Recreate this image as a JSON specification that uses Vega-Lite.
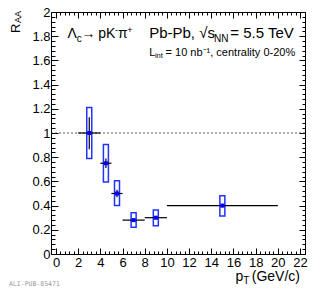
{
  "$schema": "https://vega.github.io/schema/vega-lite/v6.json",
  "autosize": {"type": "none"},
  "padding": {"left": 51, "top": 12, "right": 17, "bottom": 37},
  "width": 254,
  "height": 242,
  "background": "white",
  "config": {
    "view": {"stroke": "black", "strokeWidth": 1},
    "axis": {"grid": false, "domain": false, "labelFont": "Liberation Sans", "labelFontSize": 13, "labelColor": "black", "tickColor": "black", "tickWidth": 1, "title": null, "labelFlush": false, "labelOverlap": false},
    "text": {"font": "Liberation Sans", "color": "black"}
  },
  "datasets": {
    "pts": [
      {"pt": 3.0, "xlo": 2, "xhi": 4, "val": 1.0, "stlo": 0.865, "sthi": 1.13, "sylo": 0.79, "syhi": 1.21},
      {"pt": 4.5, "xlo": 4, "xhi": 5, "val": 0.75, "stlo": 0.71, "sthi": 0.79, "sylo": 0.595, "syhi": 0.905},
      {"pt": 5.5, "xlo": 5, "xhi": 6, "val": 0.50, "stlo": 0.47, "sthi": 0.53, "sylo": 0.40, "syhi": 0.605},
      {"pt": 7.0, "xlo": 6, "xhi": 8, "val": 0.28, "stlo": 0.265, "sthi": 0.295, "sylo": 0.222, "syhi": 0.341},
      {"pt": 9.0, "xlo": 8, "xhi": 10, "val": 0.30, "stlo": 0.285, "sthi": 0.315, "sylo": 0.234, "syhi": 0.364},
      {"pt": 15.0, "xlo": 10, "xhi": 20, "val": 0.40, "stlo": 0.385, "sthi": 0.415, "sylo": 0.315, "syhi": 0.482}
    ],
    "ref": [{"r": 1}]
  },
  "encoding": {
    "x": {"type": "quantitative", "scale": {"domain": [0, 22], "nice": false, "zero": false}},
    "y": {"type": "quantitative", "scale": {"domain": [0, 2], "nice": false, "zero": false}}
  },
  "resolve": {"axis": {"x": "independent", "y": "independent"}},
  "layer": [
    {
      "data": {"name": "ref"},
      "mark": {"type": "rule", "color": "#333333", "strokeWidth": 0.8, "strokeDash": [2, 2]},
      "encoding": {"y": {"field": "r", "type": "quantitative", "axis": null}}
    },
    {
      "data": {"name": "pts"},
      "mark": {"type": "bar", "width": 5, "fill": "transparent", "stroke": "#2233ff", "strokeWidth": 1.5},
      "encoding": {
        "x": {"field": "pt", "type": "quantitative", "axis": {"orient": "bottom", "values": [0,2,4,6,8,10,12,14,16,18,20,22], "ticks": false, "labelPadding": 2, "format": "~g"}},
        "y": {"field": "sylo", "type": "quantitative", "axis": {"orient": "left", "values": [0,0.2,0.4,0.6,0.8,1,1.2,1.4,1.6,1.8,2], "ticks": false, "labelPadding": 1, "format": "~g"}},
        "y2": {"field": "syhi"}
      }
    },
    {
      "data": {"name": "pts"},
      "mark": {"type": "rule", "color": "black", "strokeWidth": 1.2},
      "encoding": {
        "x": {"field": "xlo", "type": "quantitative", "axis": {"orient": "top", "offset": -242, "labels": false, "values": [0,2,4,6,8,10,12,14,16,18,20,22], "tickSize": 6}},
        "x2": {"field": "xhi"},
        "y": {"field": "val", "type": "quantitative", "axis": {"orient": "right", "offset": -254, "labels": false, "values": [0,0.2,0.4,0.6,0.8,1,1.2,1.4,1.6,1.8,2], "tickSize": 7}}
      }
    },
    {
      "data": {"name": "pts"},
      "mark": {"type": "rule", "color": "black", "strokeWidth": 1.2},
      "encoding": {
        "x": {"field": "pt", "type": "quantitative", "axis": {"orient": "top", "offset": -242, "labels": false, "values": [0,0.4,0.8,1.2,1.6,2,2.4,2.8,3.2,3.6,4,4.4,4.8,5.2,5.6,6,6.4,6.8,7.2,7.6,8,8.4,8.8,9.2,9.6,10,10.4,10.8,11.2,11.6,12,12.4,12.8,13.2,13.6,14,14.4,14.8,15.2,15.6,16,16.4,16.8,17.2,17.6,18,18.4,18.8,19.2,19.6,20,20.4,20.8,21.2,21.6,22], "tickSize": 3}},
        "y": {"field": "stlo", "type": "quantitative", "axis": {"orient": "right", "offset": -254, "labels": false, "values": [0,0.04,0.08,0.12,0.16,0.2,0.24,0.28,0.32,0.36,0.4,0.44,0.48,0.52,0.56,0.6,0.64,0.68,0.72,0.76,0.8,0.84,0.88,0.92,0.96,1,1.04,1.08,1.12,1.16,1.2,1.24,1.28,1.32,1.36,1.4,1.44,1.48,1.52,1.56,1.6,1.64,1.68,1.72,1.76,1.8,1.84,1.88,1.92,1.96,2], "tickSize": 4}},
        "y2": {"field": "sthi"}
      }
    },
    {
      "data": {"name": "pts"},
      "mark": {"type": "square", "size": 16, "color": "#0000ff", "opacity": 1},
      "encoding": {
        "x": {"field": "pt", "type": "quantitative", "axis": {"orient": "bottom", "offset": -242, "labels": false, "values": [0,2,4,6,8,10,12,14,16,18,20,22], "tickSize": 6}},
        "y": {"field": "val", "type": "quantitative", "axis": {"orient": "left", "offset": -254, "labels": false, "values": [0,0.2,0.4,0.6,0.8,1,1.2,1.4,1.6,1.8,2], "tickSize": 6}}
      }
    },
    {
      "data": {"values": [
        {"tx": 1.04, "ty": 1.781, "txt": "Λ"},
        {"tx": 2.29, "ty": 1.781, "txt": "→"},
        {"tx": 3.81, "ty": 1.781, "txt": "pK"},
        {"tx": 5.59, "ty": 1.781, "txt": "π"}
      ]},
      "mark": {"type": "text", "align": "left", "baseline": "alphabetic", "fontSize": 14},
      "encoding": {
        "x": {"field": "tx", "type": "quantitative", "axis": {"orient": "bottom", "offset": -242, "labels": false, "values": [0,0.4,0.8,1.2,1.6,2,2.4,2.8,3.2,3.6,4,4.4,4.8,5.2,5.6,6,6.4,6.8,7.2,7.6,8,8.4,8.8,9.2,9.6,10,10.4,10.8,11.2,11.6,12,12.4,12.8,13.2,13.6,14,14.4,14.8,15.2,15.6,16,16.4,16.8,17.2,17.6,18,18.4,18.8,19.2,19.6,20,20.4,20.8,21.2,21.6,22], "tickSize": 3}},
        "y": {"field": "ty", "type": "quantitative", "axis": {"orient": "left", "offset": -254, "labels": false, "values": [0,0.04,0.08,0.12,0.16,0.2,0.24,0.28,0.32,0.36,0.4,0.44,0.48,0.52,0.56,0.6,0.64,0.68,0.72,0.76,0.8,0.84,0.88,0.92,0.96,1,1.04,1.08,1.12,1.16,1.2,1.24,1.28,1.32,1.36,1.4,1.44,1.48,1.52,1.56,1.6,1.64,1.68,1.72,1.76,1.8,1.84,1.88,1.92,1.96,2], "tickSize": 3}},
        "text": {"field": "txt"}
      }
    },
    {
      "data": {"values": [
        {"tx": 5.31, "ty": 1.826, "txt": "-"},
        {"tx": 6.42, "ty": 1.826, "txt": "+"}
      ]},
      "mark": {"type": "text", "align": "left", "baseline": "alphabetic", "fontSize": 9},
      "encoding": {
        "x": {"field": "tx", "type": "quantitative", "axis": null},
        "y": {"field": "ty", "type": "quantitative", "axis": null},
        "text": {"field": "txt"}
      }
    },
    {
      "data": {"values": [
        {"tx": 8.40, "ty": 1.781, "txt": "Pb-Pb, √s"}
      ]},
      "mark": {"type": "text", "align": "left", "baseline": "alphabetic", "fontSize": 15},
      "encoding": {
        "x": {"field": "tx", "type": "quantitative", "axis": null},
        "y": {"field": "ty", "type": "quantitative", "axis": null},
        "text": {"field": "txt"}
      }
    },
    {
      "data": {"values": [
        {"tx": 21.44, "ty": 1.781, "txt": "= 5.5 TeV"}
      ]},
      "mark": {"type": "text", "align": "right", "baseline": "alphabetic", "fontSize": 15},
      "encoding": {
        "x": {"field": "tx", "type": "quantitative", "axis": null},
        "y": {"field": "ty", "type": "quantitative", "axis": null},
        "text": {"field": "txt"}
      }
    },
    {
      "data": {"values": [
        {"tx": 1.86, "ty": 1.756, "txt": "c"},
        {"tx": 14.25, "ty": 1.756, "txt": "NN"},
        {"tx": 16.89, "ty": -0.248, "txt": "T"}
      ]},
      "mark": {"type": "text", "align": "left", "baseline": "alphabetic", "fontSize": 10},
      "encoding": {
        "x": {"field": "tx", "type": "quantitative", "axis": null},
        "y": {"field": "ty", "type": "quantitative", "axis": null},
        "text": {"field": "txt"}
      }
    },
    {
      "data": {"values": [
        {"tx": 16.19, "ty": -0.223, "txt": "p"}
      ]},
      "mark": {"type": "text", "align": "left", "baseline": "alphabetic", "fontSize": 14},
      "encoding": {
        "x": {"field": "tx", "type": "quantitative", "axis": null},
        "y": {"field": "ty", "type": "quantitative", "axis": null},
        "text": {"field": "txt"}
      }
    },
    {
      "data": {"values": [
        {"tx": 22.0, "ty": -0.223, "txt": "(GeV/c)"}
      ]},
      "mark": {"type": "text", "align": "right", "baseline": "alphabetic", "fontSize": 14},
      "encoding": {
        "x": {"field": "tx", "type": "quantitative", "axis": null},
        "y": {"field": "ty", "type": "quantitative", "axis": null},
        "text": {"field": "txt"}
      }
    },
    {
      "data": {"values": [
        {"tx": 8.40, "ty": 1.636, "txt": "L"}
      ]},
      "mark": {"type": "text", "align": "left", "baseline": "alphabetic", "fontSize": 11},
      "encoding": {
        "x": {"field": "tx", "type": "quantitative", "axis": null},
        "y": {"field": "ty", "type": "quantitative", "axis": null},
        "text": {"field": "txt"}
      }
    },
    {
      "data": {"values": [
        {"tx": 8.92, "ty": 1.618, "txt": "int"}
      ]},
      "mark": {"type": "text", "align": "left", "baseline": "alphabetic", "fontSize": 7.5},
      "encoding": {
        "x": {"field": "tx", "type": "quantitative", "axis": null},
        "y": {"field": "ty", "type": "quantitative", "axis": null},
        "text": {"field": "txt"}
      }
    },
    {
      "data": {"values": [
        {"tx": 21.57, "ty": 1.636, "txt": "= 10 nb⁻¹, centrality 0-20%"}
      ]},
      "mark": {"type": "text", "align": "right", "baseline": "alphabetic", "fontSize": 11},
      "encoding": {
        "x": {"field": "tx", "type": "quantitative", "axis": null},
        "y": {"field": "ty", "type": "quantitative", "axis": null},
        "text": {"field": "txt"}
      }
    },
    {
      "data": {"values": [
        {"tx": -3.25, "ty": 1.826, "txt": "R"}
      ]},
      "mark": {"type": "text", "align": "left", "baseline": "alphabetic", "fontSize": 13, "angle": 270},
      "encoding": {
        "x": {"field": "tx", "type": "quantitative", "axis": null},
        "y": {"field": "ty", "type": "quantitative", "axis": null},
        "text": {"field": "txt"}
      }
    },
    {
      "data": {"values": [
        {"tx": -3.12, "ty": 1.909, "txt": "AA"}
      ]},
      "mark": {"type": "text", "align": "left", "baseline": "alphabetic", "fontSize": 9, "angle": 270},
      "encoding": {
        "x": {"field": "tx", "type": "quantitative", "axis": null},
        "y": {"field": "ty", "type": "quantitative", "axis": null},
        "text": {"field": "txt"}
      }
    },
    {
      "data": {"values": [
        {"tx": -4.24, "ty": -0.264, "txt": "ALI-PUB-85471"}
      ]},
      "mark": {"type": "text", "align": "left", "baseline": "alphabetic", "fontSize": 6.5, "font": "DejaVu Sans Mono", "color": "#999999"},
      "encoding": {
        "x": {"field": "tx", "type": "quantitative", "axis": null},
        "y": {"field": "ty", "type": "quantitative", "axis": null},
        "text": {"field": "txt"}
      }
    }
  ]
}
